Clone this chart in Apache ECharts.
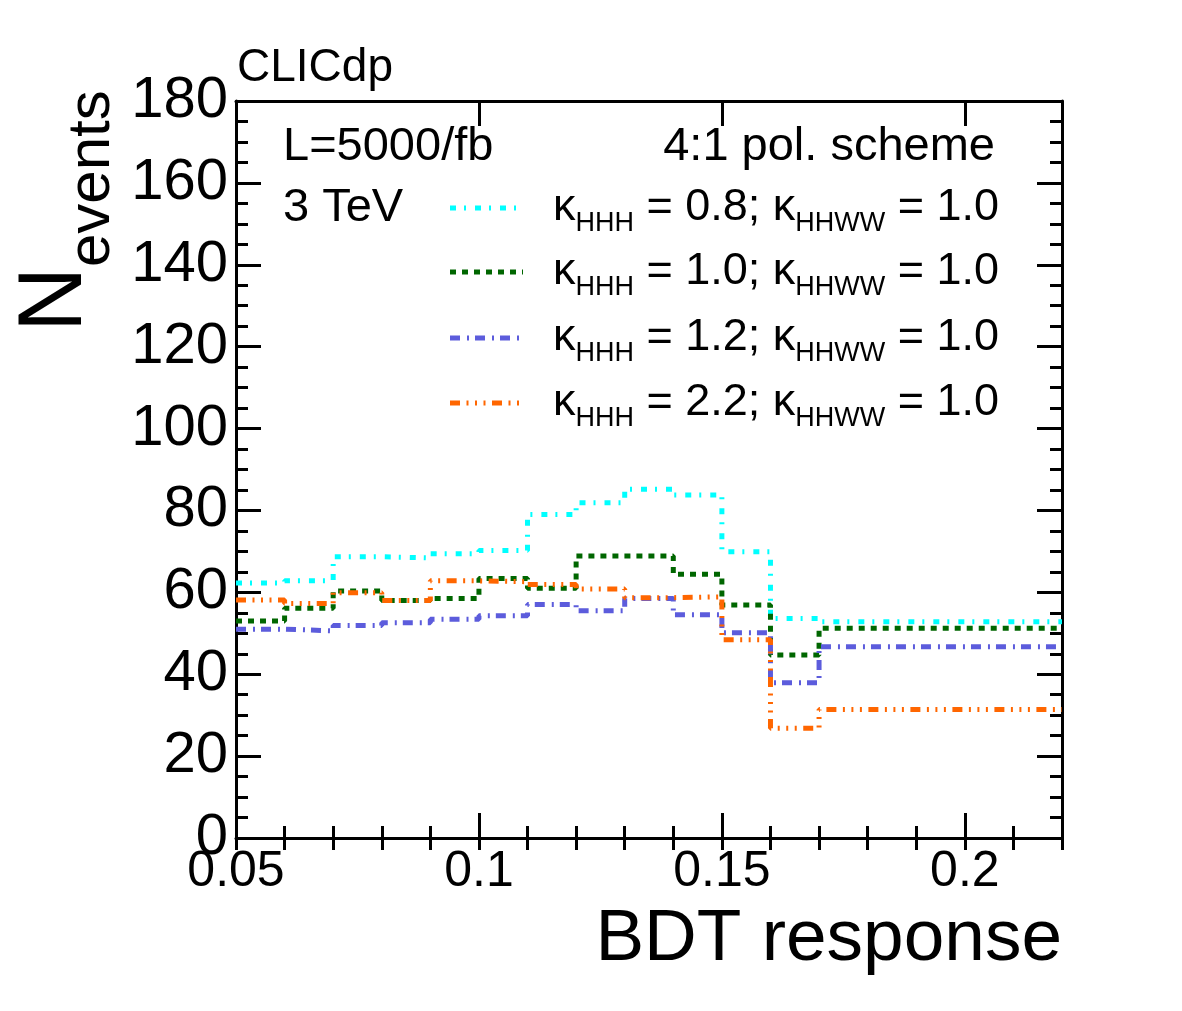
<!DOCTYPE html>
<html>
<head>
  <meta charset="utf-8">
  <title>BDT response</title>
  <script src="https://cdn.jsdelivr.net/npm/echarts@6/dist/echarts.min.js"></script>
  <style>
    html, body { margin: 0; padding: 0; background: #fff; }
    #chart-main { width: 1182px; height: 1011px; }
  </style>
</head>
<body>
<div id="chart-main"></div>
<script>
// bin edges of the BDT response histogram (last bin is wide)
var binEdges = [0.05, 0.06, 0.07, 0.08, 0.09, 0.10, 0.11, 0.12, 0.13, 0.14, 0.15, 0.16, 0.17, 0.22];

// events per bin
var kappa08 = [62.3, 62.8, 68.7, 68.4, 69.4, 70.2, 79.0, 81.9, 85.2, 83.8, 69.9, 53.6, 52.8];
var kappa10 = [53.0, 56.1, 60.3, 58.0, 58.5, 63.4, 61.0, 68.9, 68.9, 64.4, 56.9, 44.7, 51.2];
var kappa12 = [51.0, 50.6, 51.9, 52.6, 53.4, 54.3, 57.0, 55.5, 58.5, 54.5, 50.1, 37.9, 46.7];
var kappa22 = [58.1, 57.3, 59.9, 58.0, 62.8, 62.6, 61.9, 60.8, 58.7, 58.9, 48.4, 26.8, 31.4];

var kappaHHH  = ['0.8', '1.0', '1.2', '2.2'];
var kappaHHWW = ['1.0', '1.0', '1.0', '1.0'];

// axes
var xRange = [0.05, 0.22], xMajor = 0.05, xMinor = 0.01;
var yRange = [0, 180], yMajor = 20;

var FONT = 'Liberation Sans';
var colors = ['#00ffff', '#006600', '#5c5cdc', '#ff6600'];
var dashes = [
  [6, 8, 2, 9],
  [6, 6],
  [10, 7, 2, 6],
  [10, 6.5, 2, 6.5, 2, 6.5, 2, 6.5]
];
var values = [kappa08, kappa10, kappa12, kappa22];

function stepData(vals) {
  var d = [];
  for (var i = 0; i < vals.length; i++) d.push([binEdges[i], vals[i]]);
  d.push([binEdges[binEdges.length - 1], vals[vals.length - 1]]);
  return d;
}

function legendText(i) {
  return '{k|κ}{s|HHH}{m| = ' + kappaHHH[i] + '; }{k|κ}{s|HHWW}{m| = ' + kappaHHWW[i] + '}';
}

var myChart = echarts.init(document.getElementById('chart-main'), null, { renderer: 'canvas' });

var black = '#000';
var tickMajor = { show: true, inside: true, length: 25, lineStyle: { color: black, width: 3 } };
var tickMinor = { show: true, inside: true, length: 12, lineStyle: { color: black, width: 3 } };
var frameLine = { show: true, onZero: false, lineStyle: { color: black, width: 3 } };

function xAxisDef(pos, interval, major) {
  return {
    type: 'value', position: pos, min: xRange[0], max: xRange[1], interval: interval,
    axisLine: major ? frameLine : { show: false },
    axisTick: major ? tickMajor : tickMinor,
    splitLine: { show: false },
    axisLabel: (major && pos === 'bottom') ? {
      show: true, color: black, fontFamily: FONT, fontSize: 50, margin: 9,
      showMinLabel: true, showMaxLabel: false
    } : { show: false }
  };
}

function yAxisDef(pos, labels) {
  return {
    type: 'value', position: pos, min: yRange[0], max: yRange[1], interval: yMajor,
    axisLine: frameLine,
    axisTick: tickMajor,
    minorTick: { show: true, splitNumber: 4, length: 12, lineStyle: { color: black, width: 3 } },
    splitLine: { show: false },
    minorSplitLine: { show: false },
    axisLabel: labels ? { show: true, color: black, fontFamily: FONT, fontSize: 58, margin: 8 } : { show: false }
  };
}

var series = values.map(function (v, i) {
  return {
    name: 'k' + kappaHHH[i],
    type: 'line', step: 'end', showSymbol: false, symbol: 'none',
    xAxisIndex: 0, yAxisIndex: 0,
    lineStyle: { color: colors[i], width: 5, type: dashes[i], cap: 'butt' },
    data: stepData(v),
    z: 3 + i
  };
});

var rich = {
  k: { fontFamily: FONT, fontSize: 45, lineHeight: 48, verticalAlign: 'top', fill: black },
  m: { fontFamily: FONT, fontSize: 45, lineHeight: 48, verticalAlign: 'top', fill: black },
  s: { fontFamily: FONT, fontSize: 27, lineHeight: 29, verticalAlign: 'top', padding: [25, 0, 0, 0], fill: black }
};

var legendRows = [208, 272, 338, 403];
var graphics = [];
legendRows.forEach(function (y, i) {
  graphics.push({
    type: 'line', z: 10,
    shape: { x1: 450, y1: y, x2: 523, y2: y },
    style: { stroke: colors[i], lineWidth: 5, lineDash: dashes[i] }
  });
  graphics.push({
    type: 'text', z: 10, x: 553, y: y - 23,
    style: { text: legendText(i), rich: rich, align: 'left', verticalAlign: 'top' }
  });
});

function label(text, x, y, size, align) {
  return {
    type: 'text', z: 10, x: x, y: y,
    style: { text: text, fontFamily: FONT, fontSize: size, fill: black, align: align || 'left', verticalAlign: 'middle' }
  };
}

graphics.push(label('CLICdp', 237, 68, 46));
graphics.push(label('L=5000/fb', 283, 147, 47));
graphics.push(label('3 TeV', 283, 208, 47));
graphics.push(label('4:1 pol. scheme', 995, 147, 47, 'right'));
graphics.push(label('BDT response', 1062, 940, 73, 'right'));

var nTitle = label('N', 56, 332, 90);
nTitle.rotation = Math.PI / 2;
var eTitle = label('events', 92, 267, 60);
eTitle.rotation = Math.PI / 2;
graphics.push(nTitle, eTitle);

var option = {
  backgroundColor: '#fff',
  animation: false,
  grid: { left: 236, top: 101, width: 826, height: 737, containLabel: false },
  xAxis: [
    xAxisDef('bottom', xMajor, true),
    xAxisDef('bottom', xMinor, false),
    xAxisDef('top', xMajor, true),
    xAxisDef('top', xMinor, false)
  ],
  yAxis: [
    yAxisDef('left', true),
    yAxisDef('right', false)
  ],
  series: series,
  graphic: graphics
};

myChart.setOption(option);
</script>
</body>
</html>
